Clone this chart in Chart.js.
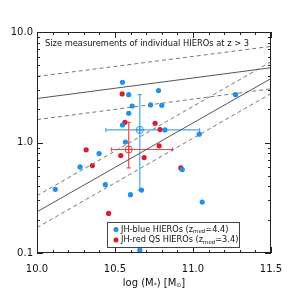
<!DOCTYPE html>
<html>
<head>
<meta charset="utf-8">
<script src="https://cdn.jsdelivr.net/npm/chart.js@4/dist/chart.umd.min.js"></script>
<style>
	html, body { margin: 0; padding: 0; background: #fff; }
	#wrap { width: 293px; height: 293px; }
</style>
</head>
<body>
<div id="wrap"><canvas id="c" width="293" height="293"></canvas></div>
<script>
// individual HIEROs
const blueX = [10.548, 10.588, 10.779, 10.610, 10.728, 10.800, 10.588, 10.548, 10.820, 11.040, 11.273, 10.567, 10.398, 10.276, 10.117, 10.438, 10.599, 10.670, 10.931, 11.059, 10.659];
const blueY = [3.51, 2.71, 2.95, 2.14, 2.19, 2.17, 1.84, 1.44, 1.30, 1.19, 2.71, 1.01, 0.794, 0.601, 0.377, 0.415, 0.337, 0.371, 0.569, 0.289, 0.106];
const redX = [10.546, 10.563, 10.757, 10.789, 10.783, 10.315, 10.537, 10.687, 10.355, 10.922, 10.459];
const redY = [2.75, 1.52, 1.49, 1.31, 0.933, 0.858, 0.762, 0.731, 0.618, 0.589, 0.228];

// medians: [x, y, xlo, xhi, ylo, yhi]
const blueMedian = [10.659, 1.30, 10.441, 11.042, 0.371, 2.71];
const redMedian = [10.588, 0.864, 10.477, 10.868, 0.589, 1.52];

// size-mass relations, values at the two ends of the axis
const relX = [10.0, 11.5];
const lateMid = [2.50, 4.75];
const lateUp = [3.96, 7.41];
const lateLow = [1.61, 3.06];
const earlyMid = [0.236, 3.79];
const earlyUp = [0.33, 5.38];
const earlyLow = [0.170, 2.77];

const xTicks = [10.0, 10.5, 11.0, 11.5];
const yTicks = [0.1, 1, 10];

const BLUE = "#1f8ff0";
const RED = "#d91e2a";
const FONT = "'DejaVu Sans', sans-serif";

function pts(xs, ys) {
	return xs.map((x, i) => ({ x: x, y: ys[i] }));
}

function relLine(ys, dashed) {
	return {
		type: "line",
		data: pts(relX, ys),
		borderColor: dashed ? "#777" : "#555",
		borderWidth: 1,
		borderDash: dashed ? [4, 3] : [],
		pointRadius: 0,
		tension: 0,
	};
}

function dotSet(xs, ys, color) {
	return {
		type: "scatter",
		data: pts(xs, ys),
		backgroundColor: color,
		borderColor: color,
		pointRadius: 2.6,
		borderWidth: 0,
	};
}

function medianSets(m, color) {
	return [
		{
			type: "scatter",
			data: [{ x: m[0], y: m[1] }],
			pointStyle: "circle",
			pointRadius: 3.6,
			backgroundColor: "rgba(0,0,0,0)",
			borderColor: color,
			borderWidth: 1,
		},
		{
			type: "scatter",
			data: [{ x: m[0], y: m[1] }],
			pointStyle: "cross",
			pointRadius: 3.6,
			borderColor: color,
			borderWidth: 1,
		},
	];
}

const frame = {
	id: "frame",
	beforeDatasetsDraw(chart) {
		const { ctx, scales } = chart;
		const sx = scales.x, sy = scales.y;
		// error bars for the medians
		const bars = [[blueMedian, "#4aa5f2"], [redMedian, "#f04a4a"]];
		ctx.save();
		ctx.lineWidth = 1.2;
		for (const [m, col] of bars) {
			ctx.strokeStyle = col;
			const cx = sx.getPixelForValue(m[0]), cy = sy.getPixelForValue(m[1]);
			const x0 = sx.getPixelForValue(m[2]), x1 = sx.getPixelForValue(m[3]);
			const y0 = sy.getPixelForValue(m[4]), y1 = sy.getPixelForValue(m[5]);
			ctx.beginPath();
			ctx.moveTo(x0, cy); ctx.lineTo(x1, cy);
			ctx.moveTo(cx, y0); ctx.lineTo(cx, y1);
			ctx.moveTo(x0, cy - 2); ctx.lineTo(x0, cy + 2);
			ctx.moveTo(x1, cy - 2); ctx.lineTo(x1, cy + 2);
			ctx.moveTo(cx - 2, y0); ctx.lineTo(cx + 2, y0);
			ctx.moveTo(cx - 2, y1); ctx.lineTo(cx + 2, y1);
			ctx.stroke();
		}
		ctx.restore();
	},
	afterDraw(chart) {
		const { ctx, chartArea: a, scales } = chart;
		const sx = scales.x, sy = scales.y;
		ctx.save();
		ctx.strokeStyle = "#222";
		ctx.lineWidth = 1;
		ctx.strokeRect(a.left + 0.5, a.top + 0.5, a.right - a.left - 1, a.bottom - a.top - 1);

		// inward ticks on all four sides
		ctx.beginPath();
		for (let v = 10.0; v <= 11.501; v += 0.1) {
			const px = Math.round(sx.getPixelForValue(v)) + 0.5;
			const major = Math.abs(v * 2 - Math.round(v * 2)) < 1e-6;
			const len = major ? 6 : 3;
			ctx.moveTo(px, a.bottom); ctx.lineTo(px, a.bottom - len);
			ctx.moveTo(px, a.top); ctx.lineTo(px, a.top + len);
		}
		for (let d = 0.1; d < 10; d *= 10) {
			for (let k = 1; k <= 10; k++) {
				const v = d * k;
				const py = Math.round(sy.getPixelForValue(v)) + 0.5;
				const len = (k === 1 || k === 10) ? 6 : 3;
				ctx.moveTo(a.left, py); ctx.lineTo(a.left + len, py);
				ctx.moveTo(a.right, py); ctx.lineTo(a.right - len, py);
			}
		}
		ctx.stroke();

		// label inside the plot
		ctx.fillStyle = "#111";
		ctx.font = "8.3px " + FONT;
		ctx.textBaseline = "middle";
		ctx.fillText("Size measurements of individual HIEROs at z > 3", 45, 44);

		// legend with subscripts
		ctx.fillStyle = "#fff";
		ctx.fillRect(107, 222, 133, 26);
		ctx.strokeStyle = "#444";
		ctx.strokeRect(107.5, 222.5, 132, 25);
		const rows = [[BLUE, "JH-blue HIEROs (z", "=4.4)", 229.5], [RED, "JH-red QS HIEROs (z", "=3.4)", 240]];
		for (const [col, a1, a2, y] of rows) {
			ctx.fillStyle = col;
			ctx.beginPath();
			ctx.arc(116, y, 2.5, 0, Math.PI * 2);
			ctx.fill();
			ctx.fillStyle = "#111";
			ctx.font = "8.2px " + FONT;
			let x = 121;
			ctx.fillText(a1, x, y);
			x += ctx.measureText(a1).width;
			ctx.font = "5.5px " + FONT;
			ctx.fillText("med", x, y + 2.5);
			x += ctx.measureText("med").width;
			ctx.font = "8.2px " + FONT;
			ctx.fillText(a2, x, y);
		}

		// x axis title: log (M*) [M_sun]
		ctx.fillStyle = "#111";
		const parts = [["log (M", 10, 0], ["*", 6, 2.5], [") [M", 10, 0], ["\u2299", 6, 2.5], ["]", 10, 0]];
		let w = 0;
		for (const [t, s] of parts) { ctx.font = s + "px " + FONT; w += ctx.measureText(t).width; }
		let x = 154 - w / 2;
		for (const [t, s, dy] of parts) {
			ctx.font = s + "px " + FONT;
			ctx.fillText(t, x, 283 + dy);
			x += ctx.measureText(t).width;
		}

		// y axis title, mostly cut off at the left edge
		ctx.translate(-4, 140);
		ctx.rotate(-Math.PI / 2);
		ctx.font = "10px " + FONT;
		ctx.textBaseline = "alphabetic";
		ctx.fillText("r", -4, 0);
		ctx.font = "6px " + FONT;
		ctx.fillText("e", 0, 3);
		ctx.restore();
	},
};

new Chart(document.getElementById("c").getContext("2d"), {
	data: {
		datasets: [
			relLine(lateUp, true),
			relLine(lateMid, false),
			relLine(lateLow, true),
			relLine(earlyUp, true),
			relLine(earlyMid, false),
			relLine(earlyLow, true),
			dotSet(blueX, blueY, BLUE),
			dotSet(redX, redY, RED),
			...medianSets(blueMedian, "#2f95f0"),
			...medianSets(redMedian, "#e8383c"),
		],
	},
	options: {
		responsive: false,
		animation: false,
		events: [],
		layout: { padding: { left: 0, top: 32, right: 22, bottom: 0 } },
		scales: {
			x: {
				type: "linear",
				min: 10.0,
				max: 11.5,
				afterFit(s) { s.height = 40; },
				afterBuildTicks(s) { s.ticks = xTicks.map((v) => ({ value: v })); },
				grid: { display: false, drawTicks: false },
				border: { display: false },
				ticks: {
					padding: 10,
					color: "#111",
					font: { family: FONT, size: 10 },
					callback: (v) => v.toFixed(1),
				},
			},
			y: {
				type: "logarithmic",
				min: 0.1,
				max: 10,
				afterFit(s) { s.width = 37; },
				afterBuildTicks(s) { s.ticks = yTicks.map((v) => ({ value: v })); },
				grid: { display: false, drawTicks: false },
				border: { display: false },
				ticks: {
					padding: 4,
					color: "#111",
					font: { family: FONT, size: 10 },
					callback: (v) => Number(v).toFixed(1),
				},
			},
		},
		plugins: {
			legend: { display: false },
			tooltip: { enabled: false },
		},
	},
	plugins: [frame],
});
</script>
</body>
</html>
